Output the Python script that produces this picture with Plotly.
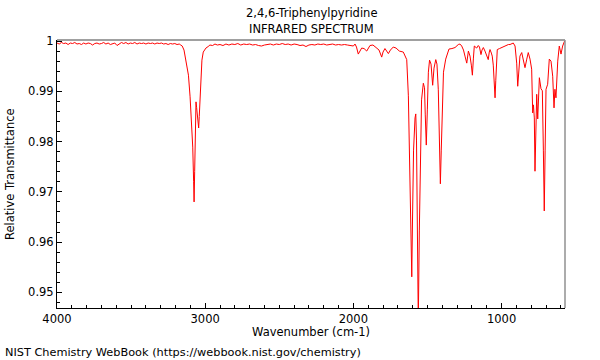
import plotly.graph_objects as go

# Wavenumber (cm-1) and relative transmittance
wavenumber = [
    4000, 3985, 3970, 3955, 3940, 3925, 3910, 3895, 3880, 3865, 3850, 3835, 3820, 3805,
    3790, 3775, 3760, 3745, 3730, 3715, 3700, 3685, 3670, 3655, 3640, 3625, 3610, 3595,
    3580, 3565, 3550, 3535, 3520, 3505, 3490, 3475, 3460, 3445, 3430, 3415, 3400, 3385,
    3370, 3355, 3340, 3325, 3310, 3295, 3280, 3265, 3250, 3235, 3220, 3205, 3190, 3175,
    3165,
    3155, 3143, 3125, 3113, 3102, 3090, 3084, 3078, 3075, 3071, 3068, 3062, 3058, 3055,
    3048, 3044, 3040, 3037, 3030, 3022, 3013, 2995, 2980, 2968, 2950, 2934, 2918,
    2900, 2880, 2860, 2840, 2820, 2800, 2780, 2760, 2740, 2720, 2700, 2680, 2660, 2640,
    2620, 2600, 2580, 2560, 2540, 2520, 2500, 2480, 2460, 2440, 2420, 2400, 2380, 2360,
    2340, 2320, 2300, 2280, 2260, 2240, 2220, 2200, 2180, 2160, 2140, 2120, 2100, 2080,
    2060, 2040, 2020, 2000,
    1989, 1979, 1967, 1955, 1944, 1928, 1910, 1888, 1868, 1847, 1827, 1809, 1800, 1787,
    1764, 1750, 1731, 1712, 1690, 1663, 1652, 1640, 1629, 1623, 1618, 1611, 1606, 1601,
    1594, 1584, 1579, 1574, 1569, 1562, 1555, 1547, 1540, 1528, 1520, 1515, 1508, 1501,
    1494, 1486, 1476, 1465, 1456, 1444, 1436, 1427, 1420, 1413, 1407, 1400, 1392, 1377,
    1365, 1355, 1335, 1314, 1292, 1281, 1269, 1257, 1247, 1235, 1224, 1213, 1204, 1197,
    1190, 1184, 1168, 1157, 1149, 1139, 1132, 1123, 1112, 1100, 1090, 1083, 1078, 1069,
    1063, 1056, 1050, 1044, 1039, 1034, 1029, 1014, 999, 987, 977, 965, 954, 943,
    933, 921, 909, 903, 898, 891, 884, 876, 864, 853, 842, 830, 820, 808,
    797, 790, 785, 779, 774.5, 769, 763, 756, 751, 745, 734, 725, 718, 712,
    706, 700, 689, 678, 666.5, 655, 646, 640, 633, 621, 610.5, 599, 588, 577,
    572,
]
transmittance = [
    0.9996, 0.9994, 0.9997, 0.9995, 0.9996, 0.9993, 0.9996, 0.9995, 0.9997, 0.9994, 0.9995, 0.9993, 0.9996, 0.9994,
    0.9996, 0.9995, 0.9992, 0.9995, 0.9996, 0.9994, 0.9995, 0.9997, 0.9994, 0.9996, 0.9993, 0.9995, 0.9996, 0.9991,
    0.9994, 0.9997, 0.9995, 0.9997, 0.9994, 0.9996, 0.9995, 0.9997, 0.9994, 0.9996, 0.9995, 0.9996, 0.9994, 0.9996,
    0.9995, 0.9996, 0.9994, 0.9996, 0.9995, 0.9996, 0.9994, 0.9995, 0.9993, 0.9995, 0.9994, 0.9995, 0.9993, 0.9994,
    0.9992,
    0.9990, 0.9982, 0.9956, 0.9932, 0.9889, 0.9830, 0.9789, 0.9720, 0.9680, 0.9740, 0.9800, 0.9879, 0.9868, 0.9855,
    0.9835, 0.9827, 0.9850, 0.9873, 0.9936, 0.9962, 0.9978, 0.9986, 0.9989, 0.9992, 0.9991, 0.9994, 0.9992,
    0.9993, 0.9991, 0.9994, 0.9992, 0.9994, 0.9993, 0.9995, 0.9992, 0.9994, 0.9993, 0.9994, 0.9992, 0.9993, 0.9991,
    0.9990, 0.9992, 0.9993, 0.9994, 0.9992, 0.9994, 0.9993, 0.9995, 0.9993, 0.9994, 0.9992, 0.9994, 0.9993, 0.9991,
    0.9992, 0.9989, 0.9992, 0.9993, 0.9992, 0.9994, 0.9993, 0.9994, 0.9992, 0.9993, 0.9994, 0.9992, 0.9993, 0.9992,
    0.9993, 0.9992, 0.9991, 0.9990,
    0.9994, 0.9988, 0.9974, 0.9980, 0.9986, 0.9985, 0.9980, 0.9991, 0.9992, 0.9987, 0.9982, 0.9968, 0.9978, 0.9985,
    0.9975, 0.9982, 0.9988, 0.9986, 0.9980, 0.9978, 0.9972, 0.9963, 0.9891, 0.9803, 0.9726, 0.9604, 0.9531, 0.9644,
    0.9783, 0.9847, 0.9855, 0.9803, 0.9624, 0.9440, 0.9624, 0.9803, 0.9883, 0.9916, 0.9907, 0.9853, 0.9793, 0.9863,
    0.9938, 0.9962, 0.9954, 0.9912, 0.9946, 0.9963, 0.9954, 0.9903, 0.9803, 0.9716, 0.9783, 0.9883, 0.9938, 0.9964,
    0.9974, 0.9984, 0.9985, 0.9987, 0.9993, 0.9994, 0.9990, 0.9982, 0.9970, 0.9956, 0.9980, 0.9970, 0.9952, 0.9932,
    0.9966, 0.9990, 0.9986, 0.9991, 0.9988, 0.9973, 0.9982, 0.9987, 0.9980, 0.9970, 0.9963, 0.9978, 0.9983, 0.9976,
    0.9970, 0.9952, 0.9912, 0.9887, 0.9922, 0.9966, 0.9983, 0.9985, 0.9987, 0.9990, 0.9990, 0.9992, 0.9993, 0.9993,
    0.9995, 0.9996, 0.9990, 0.9972, 0.9956, 0.9910, 0.9946, 0.9970, 0.9977, 0.9964, 0.9947, 0.9964, 0.9977, 0.9964,
    0.9944, 0.9857, 0.9873, 0.9847, 0.9741, 0.9813, 0.9894, 0.9845, 0.9893, 0.9927, 0.9905, 0.9901, 0.9783, 0.9662,
    0.9783, 0.9904, 0.9914, 0.9964, 0.9960, 0.9930, 0.9867, 0.9904, 0.9887, 0.9960, 0.9990, 0.9974, 0.9990, 1.0000,
    1.0002,
]

x_ticks = [4000, 3000, 2000, 1000]
y_ticks = [0.95, 0.96, 0.97, 0.98, 0.99, 1.0]
y_tick_text = ["0.95", "0.96", "0.97", "0.98", "0.99", "1"]

title_line1 = "2,4,6-Triphenylpyridine"
title_line2 = "INFRARED SPECTRUM"
x_title = "Wavenumber (cm-1)"
y_title = "Relative Transmittance"
footer = "NIST Chemistry WebBook (https://webbook.nist.gov/chemistry)"

FONT = "DejaVu Sans"
FS = 11.5

PAGE_W, PAGE_H = 600, 360
# plot box in page pixels
PL, PR, PT, PB = 57, 565, 40, 308
plot_w = PR - PL
plot_h = PB - PT

fig = go.Figure()
fig.add_trace(go.Scatter(
    x=wavenumber, y=transmittance, mode="lines",
    line=dict(color="#ff0000", width=1),
    showlegend=False, hoverinfo="skip",
))

fig.update_layout(
    width=PAGE_W, height=PAGE_H,
    margin=dict(l=PL, r=PAGE_W - PR, t=PT, b=PAGE_H - PB, pad=0),
    paper_bgcolor="white", plot_bgcolor="white",
    font=dict(family=FONT, size=FS, color="black"),
    xaxis=dict(
        range=[4000, 572], tickvals=x_ticks, ticks="inside", ticklen=5,
        tickcolor="black", showline=True, linecolor="black", linewidth=1,
        showgrid=False, zeroline=False,
        minor=dict(dtick=100, tick0=0, ticks="inside", ticklen=3, tickcolor="black", showgrid=False),
        tickfont=dict(family=FONT, size=FS, color="black"),
    ),
    yaxis=dict(
        range=[0.9469, 1.0002], tickvals=y_ticks, ticktext=y_tick_text,
        ticks="inside", ticklen=5, tickcolor="black",
        showline=True, linecolor="black", linewidth=1,
        showgrid=False, zeroline=False,
        minor=dict(dtick=0.002, tick0=0, ticks="inside", ticklen=3, tickcolor="black", showgrid=False),
        tickfont=dict(family=FONT, size=FS, color="black"),
    ),
    shapes=[
        dict(type="line", xref="paper", yref="paper", x0=0, x1=1, y0=1, y1=1,
             line=dict(color="#a0a0a0", width=2)),
        dict(type="line", xref="paper", yref="paper", x0=1, x1=1, y0=0, y1=1,
             line=dict(color="#909090", width=1.5)),
    ],
    annotations=[
        dict(text=title_line1, xref="paper", yref="paper", x=0.5, y=1 + (PT - 13) / plot_h,
             xanchor="center", yanchor="middle", showarrow=False, font=dict(size=FS)),
        dict(text=title_line2, xref="paper", yref="paper", x=0.5, y=1 + (PT - 29) / plot_h,
             xanchor="center", yanchor="middle", showarrow=False, font=dict(size=FS)),
        dict(text=x_title, xref="paper", yref="paper", x=0.5, y=-(332 - PB) / plot_h,
             xanchor="center", yanchor="middle", showarrow=False, font=dict(size=FS)),
        dict(text=y_title, xref="paper", yref="paper", x=-(PL - 10) / plot_w, y=0.5,
             xanchor="center", yanchor="middle", textangle=-90, showarrow=False, font=dict(size=FS)),
        dict(text=footer, xref="paper", yref="paper", x=-(PL - 3) / plot_w, y=-(352 - PB) / plot_h,
             xanchor="left", yanchor="middle", showarrow=False, font=dict(size=11.3)),
    ],
)

# remove the browser's default 8px body margin so the figure sits at the page origin
fig.write_html(
    "out.html",
    config={"displayModeBar": False},
    post_script="document.body.style.margin='0';document.body.style.overflow='hidden';",
)
